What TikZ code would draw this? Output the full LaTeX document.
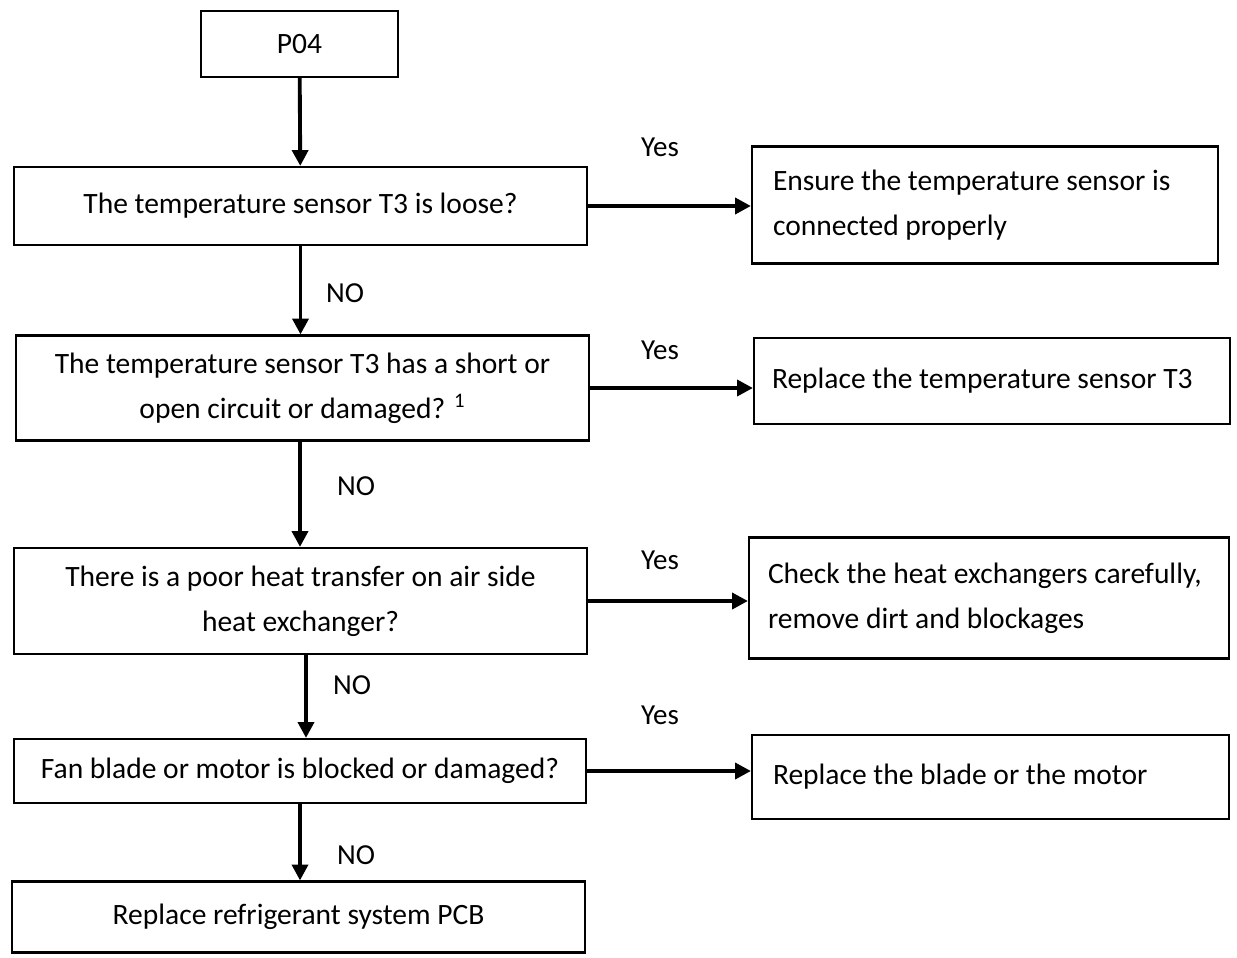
\documentclass[tikz,border=0pt]{standalone}
\usepackage{fontspec}
\setmainfont{Carlito}
\usetikzlibrary{arrows.meta}
\begin{document}
\begin{tikzpicture}[x=0.02cm,y=-0.02cm,
  box/.style={draw,line width=1.2pt,inner sep=0pt,align=center,font=\fontsize{16.8}{25.5}\selectfont},
  rbox/.style={box,align=flush left,text width=#1},
  arr/.style={line width=2.2pt,-{Triangle[length=9pt,width=9pt]}},
  lab/.style={font=\fontsize{16.5}{18}\selectfont}]
\useasboundingbox (0,0) rectangle (1237,957);
\node[box,minimum width=197*0.02cm,minimum height=66*0.02cm] (p) at (299.5,44) {P04};
\node[box,minimum width=573*0.02cm,minimum height=78*0.02cm] (b1) at (300.5,206) {The temperature sensor T3 is loose?};
\node[box,minimum width=573*0.02cm,minimum height=105*0.02cm] (b2) at (302.5,388) {The temperature sensor T3 has a short or\\open circuit or damaged? \textsuperscript{1}};
\node[box,minimum width=573*0.02cm,minimum height=106*0.02cm] (b3) at (300.5,601) {There is a poor heat transfer on air side\\heat exchanger?};
\node[box,minimum width=572*0.02cm,minimum height=64*0.02cm] (b4) at (300,771) {Fan blade or motor is blocked or damaged?};
\node[box,minimum width=573*0.02cm,minimum height=71*0.02cm] (b5) at (298.5,917) {Replace refrigerant system PCB};
\node[rbox=424*0.02cm,minimum width=466*0.02cm,minimum height=117*0.02cm] (r1) at (985,205) {Ensure the temperature sensor is\\connected properly};
\node[rbox=440*0.02cm,minimum width=476*0.02cm,minimum height=86*0.02cm] (r2) at (992,381) {Replace the temperature sensor T3};
\node[rbox=442*0.02cm,minimum width=480*0.02cm,minimum height=121*0.02cm] (r3) at (989,598) {Check the heat exchangers carefully,\\remove dirt and blockages};
\node[rbox=435*0.02cm,minimum width=477*0.02cm,minimum height=84*0.02cm] (r4) at (990.5,777) {Replace the blade or the motor};
\draw[arr] (p) -- (b1);
\draw[arr] (b1) -- (b1.south|-b2.north);
\draw[arr] (b2.south-|300,0) -- (b3.north-|300,0);
\draw[arr] (b3.south-|306,0) -- (b4.north-|306,0);
\draw[arr] (b4) -- (b4.south|-b5.north);
\draw[arr] (b1.east) -- (b1.east-|r1.west);
\draw[arr] (b2.east) -- (b2.east-|r2.west);
\draw[arr] (b3.east) -- (b3.east-|r3.west);
\draw[arr] (b4.east) -- (b4.east-|r4.west);
\node[lab] (y1) at (660,147) {Yes};
\node[lab] (y2) at (660,350) {Yes};
\node[lab] (y3) at (660,560) {Yes};
\node[lab] (y4) at (660,715) {Yes};
\node[lab] (n1) at (345,293) {NO};
\node[lab] (n2) at (356,486) {NO};
\node[lab] (n3) at (352,685) {NO};
\node[lab] (n4) at (356,855) {NO};
\end{tikzpicture}
\end{document}
